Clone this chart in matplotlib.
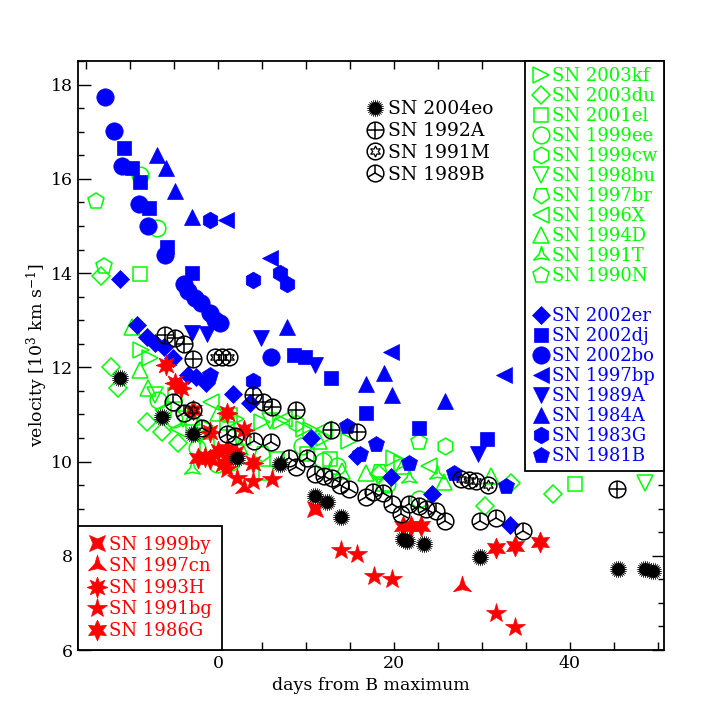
import matplotlib
matplotlib.use('Agg')
import matplotlib.pyplot as plt
from matplotlib.lines import Line2D
from matplotlib.ticker import MultipleLocator
from matplotlib.path import Path
from matplotlib.transforms import Affine2D

plt.rcParams['font.family'] = ['DejaVu Serif']
plt.rcParams['mathtext.fontset'] = 'dejavuserif'

# ---------------- data (days from B max, velocity in 10^3 km/s) ----------------
# green (open symbols)
sn2003kf_day = [-8.7, -7.7, -1.5, 2.0, 5.0, 7.2, 9.8, 10.6, 12.0, 14.9, 20.0, 20.9]
sn2003kf_vel = [12.37, 12.20, 10.75, 10.90, 10.83, 10.87, 10.70, 10.66, 10.50, 10.44, 10.08, 9.97]
sn2003du_day = [-13.3, -12.1, -11.3, -8.1, -6.3, -4.5, 18.3, 30.4, 33.3, 38.1]
sn2003du_vel = [13.93, 12.00, 11.56, 10.83, 10.62, 10.40, 9.74, 9.06, 9.55, 9.31]
sn2001el_day = [-8.8, -4.9, -1.2, 1.0, 1.4, 2.8, 5.5, 6.7, 10.1, 12.7, 18.9, 40.6]
sn2001el_vel = [13.97, 11.41, 10.33, 10.81, 10.98, 10.51, 9.75, 10.06, 10.17, 10.06, 9.53, 9.53]
sn1999ee_day = [-8.8, -6.9, -6.8, -5.0, -2.4, -0.1, 1.5, 9.6, 11.9, 13.5, 19.2, 22.8]
sn1999ee_vel = [16.09, 14.95, 11.30, 10.90, 10.29, 9.95, 10.00, 10.34, 10.02, 9.90, 9.53, 9.21]
sn1999cw_day = [8.9, 25.8]
sn1999cw_vel = [10.81, 10.32]
sn1998bu_day = [-7.1, -4.0, -2.0, 5.9, 48.5]
sn1998bu_vel = [11.41, 10.91, 10.55, 10.87, 9.55]
sn1997br_day = [5.0, 18.3]
sn1997br_vel = [10.19, 9.80]
sn1996X_day = [-6.2, -4.5, -0.8, 7.5, 12.1, 24.0]
sn1996X_vel = [11.09, 10.70, 11.26, 10.90, 10.70, 9.91]
sn1994D_day = [-9.8, -8.8, -7.9, -3.0, 0.0, 2.5, 11.5, 14.1, 16.8, 21.0, 25.7, 31.0]
sn1994D_vel = [12.86, 11.94, 11.56, 10.95, 11.02, 10.30, 10.44, 9.80, 9.76, 9.90, 9.57, 9.70]
sn1991T_day = [-2.9, 21.7, 24.9]
sn1991T_vel = [9.85, 9.65, 9.74]
sn1990N_day = [-13.8, -12.9, 22.8]
sn1990N_vel = [15.53, 14.16, 10.41]

# blue (filled symbols)
sn2002er_day = [-11.1, -9.2, -8.1, -7.1, -6.1, -5.1, -3.4, -2.5, -1.4, 1.7, 3.6,
                10.6, 15.8, 19.7, 24.3, 33.2]
sn2002er_vel = [13.88, 12.90, 12.65, 12.52, 12.43, 12.20, 11.83, 11.79, 11.66, 11.43, 11.24,
                10.49, 10.12, 9.68, 9.31, 8.65]
sn2002dj_day = [-10.7, -9.8, -8.8, -7.8, -5.8, -2.9, 8.7, 9.9, 12.9, 16.8, 22.9, 30.6]
sn2002dj_vel = [16.66, 16.23, 15.94, 15.38, 14.55, 14.01, 12.26, 12.22, 11.78, 11.02, 10.72, 10.47]
sn2002bo_day = [-12.8, -11.8, -10.9, -9.0, -7.9, -6.0, -3.8, -3.4, -2.6, -1.9, -0.9, -0.3, 0.2, 6.0]
sn2002bo_vel = [17.73, 17.02, 16.28, 15.47, 15.00, 14.38, 13.76, 13.61, 13.48, 13.37, 13.16,
                13.01, 12.94, 12.22]
sn1997bp_day = [0.9, 5.9, 19.7, 32.5]
sn1997bp_vel = [15.12, 14.33, 12.32, 11.83]
sn1989A_day = [-3.0, -1.2, 4.9, 11.0, 29.6]
sn1989A_vel = [12.73, 12.70, 12.62, 12.05, 10.17]
sn1984A_day = [-6.9, -5.9, -4.9, -2.9, 7.9, 16.8, 18.9, 19.8, 25.8]
sn1984A_vel = [16.51, 16.23, 15.74, 15.19, 12.86, 11.64, 11.88, 11.41, 11.28]
sn1983G_day = [-0.9, 4.0, 7.0, 7.9, 4.0]
sn1983G_vel = [15.12, 13.86, 14.01, 13.76, 11.71]
sn1981B_day = [-0.9, 14.7, 16.1, 18.0, 21.7, 26.8, 32.7]
sn1981B_vel = [11.83, 10.76, 10.17, 10.38, 9.97, 9.76, 9.48]

# black
sn2004eo_day = [-11.1, -6.4, -2.8, 2.2, 7.0, 11.0, 12.4, 14.0, 21.0, 21.5, 23.4, 29.8,
                45.5, 48.5, 49.5]
sn2004eo_vel = [11.77, 10.94, 10.59, 10.08, 9.95, 9.27, 9.14, 8.82, 8.35, 8.31, 8.24, 7.97,
                7.73, 7.71, 7.67]
sn1992A_day = [-6.0, -4.9, -3.8, -2.8, 4.0, 5.1, 6.1, 8.9, 12.9, 15.8, 45.4]
sn1992A_vel = [12.69, 12.62, 12.50, 12.18, 11.41, 11.26, 11.15, 11.09, 10.68, 10.62, 9.42]
sn1991M_day = [-0.3, 0.5, 1.3, -2.8, 27.6, 28.5, 29.3, 30.7]
sn1991M_vel = [12.22, 12.22, 12.22, 11.09, 9.63, 9.61, 9.59, 9.50]
sn1989B_day = [-5.1, -3.8, -1.8, 1.0, 1.9, 4.1, 6.0, 8.1, 8.9, 10.1, 11.0, 12.0, 13.0, 13.9,
               14.9, 16.8, 17.6, 18.8, 19.8, 20.8, 21.7, 22.8, 23.7, 24.8, 25.8, 29.8, 31.6, 34.7]
sn1989B_vel = [11.26, 11.04, 10.72, 10.59, 10.55, 10.44, 10.42, 10.08, 9.89, 10.08, 9.74, 9.70,
               9.65, 9.50, 9.42, 9.25, 9.35, 9.33, 9.10, 8.88, 9.10, 9.06, 8.99, 8.95, 8.74,
               8.74, 8.80, 8.52]

# red
sn1999by_day = [11.0]
sn1999by_vel = [8.99]
sn1997cn_day = [3.0, 27.7]
sn1997cn_vel = [9.44, 7.35]
sn1993H_day = [-5.9, -4.9, -4.2, 1.0, 3.0, -0.9, 0.0, 1.4, 4.0, -1.5, 0.6, 2.0]
sn1993H_vel = [12.05, 11.66, 11.56, 11.04, 10.66, 10.62, 10.23, 10.12, 9.97, 10.10, 9.95, 10.18]
sn1991bg_day = [1.0, 2.2, 4.0, 6.1, 14.0, 15.8, 17.7, 19.8, 31.6, 33.8]
sn1991bg_vel = [9.85, 9.65, 9.59, 9.63, 8.12, 8.03, 7.58, 7.50, 6.79, 6.49]
sn1986G_day = [-2.8, -2.3, -0.9, 1.0, 21.0, 21.9, 23.1, 31.6, 33.8, 36.6]
sn1986G_vel = [11.09, 10.08, 10.06, 10.27, 8.63, 8.63, 8.63, 8.16, 8.20, 8.29]

green_labels = ['SN 2003kf', 'SN 2003du', 'SN 2001el', 'SN 1999ee', 'SN 1999cw', 'SN 1998bu',
                'SN 1997br', 'SN 1996X', 'SN 1994D', 'SN 1991T', 'SN 1990N']
blue_labels = ['SN 2002er', 'SN 2002dj', 'SN 2002bo', 'SN 1997bp', 'SN 1989A', 'SN 1984A',
               'SN 1983G', 'SN 1981B']
black_labels = ['SN 2004eo', 'SN 1992A', 'SN 1991M', 'SN 1989B']
red_labels = ['SN 1999by', 'SN 1997cn', 'SN 1993H', 'SN 1991bg', 'SN 1986G']

x_ticks = [0, 20, 40]
y_ticks = [6, 8, 10, 12, 14, 16, 18]

# ---------------- styles ----------------
GREEN, BLUE, RED, BLACK = '#00ff00', '#0000ff', '#ff0000', '#000000'

TRI_STAR = Path.unit_regular_star(3, 0.3)
FOUR_STAR = Affine2D().rotate_deg(45).transform_path(Path.unit_regular_star(4, 0.4))


def openm(marker, ms, c, mew=1.1):
    return [dict(marker=marker, ms=ms, mfc='none', mec=c, mew=mew)]


def fillm(marker, ms, c):
    return [dict(marker=marker, ms=ms, mfc=c, mec=c, mew=0.5)]


green_series = [
    (sn2003kf_day, sn2003kf_vel, openm('>', 11, GREEN)),
    (sn2003du_day, sn2003du_vel, openm('D', 9, GREEN)),
    (sn2001el_day, sn2001el_vel, openm('s', 10, GREEN)),
    (sn1999ee_day, sn1999ee_vel, openm('o', 12, GREEN)),
    (sn1999cw_day, sn1999cw_vel, openm('h', 12, GREEN)),
    (sn1998bu_day, sn1998bu_vel, openm('v', 11, GREEN)),
    (sn1997br_day, sn1997br_vel, openm((5, 0, 180), 12, GREEN)),
    (sn1996X_day, sn1996X_vel, openm('<', 11, GREEN)),
    (sn1994D_day, sn1994D_vel, openm('^', 11, GREEN)),
    (sn1991T_day, sn1991T_vel, openm(TRI_STAR, 13, GREEN)),
    (sn1990N_day, sn1990N_vel, openm('p', 12, GREEN)),
]
blue_series = [
    (sn2002er_day, sn2002er_vel, fillm('D', 9, BLUE)),
    (sn2002dj_day, sn2002dj_vel, fillm('s', 9.5, BLUE)),
    (sn2002bo_day, sn2002bo_vel, fillm('o', 12.5, BLUE)),
    (sn1997bp_day, sn1997bp_vel, fillm('<', 11, BLUE)),
    (sn1989A_day, sn1989A_vel, fillm('v', 11, BLUE)),
    (sn1984A_day, sn1984A_vel, fillm('^', 11, BLUE)),
    (sn1983G_day, sn1983G_vel, fillm('h', 12, BLUE)),
    (sn1981B_day, sn1981B_vel, fillm('p', 12, BLUE)),
]
black_series = [
    (sn2004eo_day, sn2004eo_vel,
     [dict(marker='o', ms=9, mfc=BLACK, mec=BLACK, mew=0),
      dict(marker=(24, 1, 0), ms=12.5, mfc=BLACK, mec=BLACK, mew=0.3)]),
    (sn1992A_day, sn1992A_vel,
     [dict(marker='o', ms=12, mfc='none', mec=BLACK, mew=1.1),
      dict(marker='+', ms=12, mfc='none', mec=BLACK, mew=1.1)]),
    (sn1991M_day, sn1991M_vel,
     [dict(marker='o', ms=12, mfc='none', mec=BLACK, mew=1.1),
      dict(marker=(6, 1, 0), ms=8, mfc='none', mec=BLACK, mew=0.9)]),
    (sn1989B_day, sn1989B_vel,
     [dict(marker='o', ms=12, mfc='none', mec=BLACK, mew=1.1),
      dict(marker='2', ms=12, mfc='none', mec=BLACK, mew=1.1)]),
]
red_series = [
    (sn1999by_day, sn1999by_vel, fillm(FOUR_STAR, 11.5, RED)),
    (sn1997cn_day, sn1997cn_vel, fillm(TRI_STAR, 15, RED)),
    (sn1993H_day, sn1993H_vel, fillm((8, 1, 0), 15, RED)),
    (sn1991bg_day, sn1991bg_vel, fillm('*', 15, RED)),
    (sn1986G_day, sn1986G_vel, fillm((6, 1, 0), 15, RED)),
]

fig = plt.figure(figsize=(7.25, 7.25), dpi=100)
ax = fig.add_axes([0.1076, 0.1034, 0.8083, 0.8124])


def draw(series, z):
    handles = []
    for d, v, layers in series:
        hs = []
        for lay in layers:
            ax.plot(d, v, ls='none', zorder=z, **lay)
            hs.append(Line2D([], [], ls='none', **lay))
        handles.append(tuple(hs) if len(hs) > 1 else hs[0])
    return handles


h_green = draw(green_series, 2)
h_blue = draw(blue_series, 3)
h_red = draw(red_series, 4)
h_black = draw(black_series, 5)

ax.set_xlim(-15.9, 50.7)
ax.set_ylim(6, 18.5)
ax.set_xticks(x_ticks)
ax.set_yticks(y_ticks)
ax.xaxis.set_minor_locator(MultipleLocator(5))
ax.yaxis.set_minor_locator(MultipleLocator(0.5))
ax.tick_params(which='both', direction='in', top=True, right=True, labelsize=12.5, width=1)
ax.tick_params(axis='y', which='major', length=9)
ax.tick_params(axis='y', which='minor', length=4.5)
ax.tick_params(axis='x', which='both', length=6)
for s in ax.spines.values():
    s.set_linewidth(1.3)

ax.set_xlabel('days from B maximum', fontsize=12.5)
ax.set_ylabel('velocity [10$^3$ km s$^{-1}$]', fontsize=12.5, labelpad=1)

common = dict(numpoints=1, handlelength=1.0, handletextpad=0.15, fontsize=13,
              fancybox=False, framealpha=1, edgecolor=BLACK)

# green + blue legend
blank = Line2D([], [], ls='none')
leg1 = ax.legend(h_green + [blank] + h_blue, green_labels + [' '] + blue_labels,
                 loc='upper right', bbox_to_anchor=(1, 1), borderaxespad=0,
                 labelspacing=0.11, borderpad=0.35, **common)
leg1.get_frame().set_linewidth(1.3)
for t, c in zip(leg1.get_texts(), [GREEN] * 11 + [GREEN] + [BLUE] * 8):
    t.set_color(c)
leg1.set_zorder(10)
ax.add_artist(leg1)

# red legend
leg2 = ax.legend(h_red, red_labels, loc='lower left', bbox_to_anchor=(0, 0), borderaxespad=0,
                 labelspacing=0.2, borderpad=0.55, **common)
leg2.get_frame().set_linewidth(1.3)
for t in leg2.get_texts():
    t.set_color(RED)
leg2.set_zorder(10)
ax.add_artist(leg2)

# black legend
leg3 = ax.legend(h_black, black_labels, loc='upper left', bbox_to_anchor=(0.478, 0.946),
                 borderaxespad=0, frameon=False, labelspacing=0.2, numpoints=1,
                 handlelength=1.0, handletextpad=0.2, fontsize=13.5)
leg3.set_zorder(10)

fig.savefig('out.png', dpi=100)
